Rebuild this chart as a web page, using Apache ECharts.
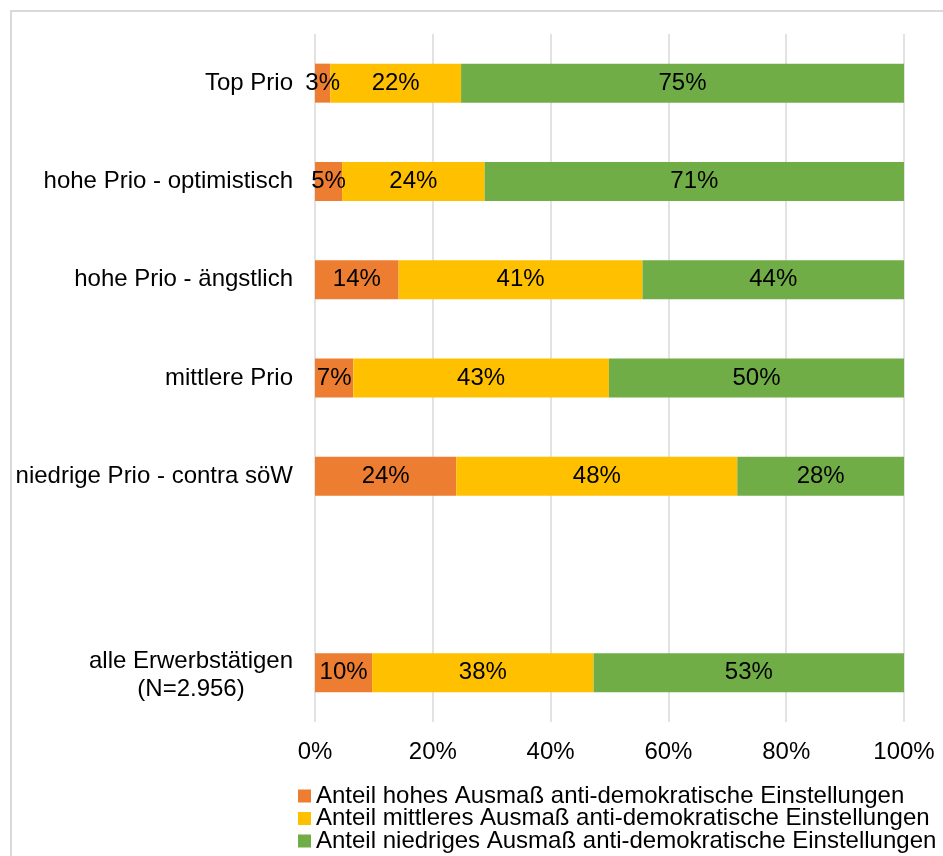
<!DOCTYPE html>
<html>
<head>
<meta charset="utf-8">
<title>anti-demokratische Einstellungen</title>
<script src="https://cdn.jsdelivr.net/npm/echarts@6/dist/echarts.min.js"></script>
<style>
	html, body { margin: 0; padding: 0; background: #fff; }
	#barChart { width: 943px; height: 856px; }
</style>
</head>
<body>
<div id="barChart"></div>
<script>
	// Kategorien von oben nach unten, leere Zeile als Abstand
	var categories = ['Top Prio', 'hohe Prio - optimistisch', 'hohe Prio - ängstlich', 'mittlere Prio', 'niedrige Prio - contra söW', '', 'alle Erwerbstätigen\n(N=2.956)'];
	var hohes = [2.6, 4.6, 14.2, 6.5, 24.0, null, 9.7];
	var mittleres = [22.2, 24.2, 41.4, 43.4, 47.7, null, 37.6];
	var niedriges = [75.2, 71.2, 44.4, 50.1, 28.3, null, 52.7];
	var seriesNames = ['Anteil hohes Ausmaß anti-demokratische Einstellungen', 'Anteil mittleres Ausmaß anti-demokratische Einstellungen', 'Anteil niedriges Ausmaß anti-demokratische Einstellungen'];
	var colors = ['#ed7d31', '#ffc000', '#70ad47'];
	var xTicks = [0, 20, 40, 60, 80, 100];

	var font = '"Liberation Sans", Arial, sans-serif';
	var fs = 24;

	var seriesLabel = {
		show: true,
		position: 'inside',
		color: '#000',
		fontFamily: font,
		fontSize: fs,
		formatter: function (p) {
			return Math.round(p.value) + '%';
		}
	};

	function makeSeries(name, data, color) {
		return {
			name: name,
			type: 'bar',
			stack: 'total',
			barWidth: 39,
			data: data,
			itemStyle: { color: color },
			label: seriesLabel,
			emphasis: { disabled: true }
		};
	}

	var myChart = echarts.init(document.getElementById('barChart'));
	var option = {
		backgroundColor: '#fff',
		animation: false,
		graphic: [{
			type: 'rect',
			shape: { x: 11, y: 11, width: 1000, height: 1000 },
			style: { fill: 'none', stroke: '#d9d9d9', lineWidth: 2 },
			silent: true
		}],
		grid: { left: 315, right: 39, top: 34, bottom: 134, containLabel: false },
		legend: {
			orient: 'vertical',
			left: 298,
			top: 784,
			height: 120,
			padding: 0,
			itemWidth: 13,
			itemHeight: 13,
			itemGap: -1.5,
			icon: 'rect',
			data: seriesNames,
			textStyle: { fontFamily: font, fontSize: fs, color: '#000' }
		},
		xAxis: {
			type: 'value',
			min: xTicks[0],
			max: xTicks[xTicks.length - 1],
			interval: 20,
			axisLine: { show: false },
			axisTick: { show: false },
			axisLabel: {
				formatter: '{value}%',
				margin: 18,
				fontFamily: font,
				fontSize: fs,
				color: '#000'
			},
			splitLine: { show: true, lineStyle: { color: '#d9d9d9', width: 1.5 } }
		},
		yAxis: {
			type: 'category',
			inverse: true,
			data: categories,
			axisLine: { show: false },
			axisTick: { show: false },
			axisLabel: {
				margin: 22,
				fontFamily: font,
				fontSize: fs,
				color: '#000',
				formatter: function (v) {
					if (v.indexOf('\n') >= 0) {
						var parts = v.split('\n');
						return '{a|' + parts[0] + '}\n{c|' + parts[1] + '}';
					}
					return v;
				},
				rich: {
					a: { width: 204, align: 'center', fontFamily: font, fontSize: fs, color: '#000', lineHeight: 28, padding: [6, 0, 0, 0] },
					c: { width: 204, align: 'center', fontFamily: font, fontSize: fs, color: '#000', lineHeight: 28, padding: [6, 0, 0, 0] }
				}
			}
		},
		series: [
			makeSeries(seriesNames[0], hohes, colors[0]),
			makeSeries(seriesNames[1], mittleres, colors[1]),
			makeSeries(seriesNames[2], niedriges, colors[2])
		]
	};
	myChart.setOption(option);
</script>
</body>
</html>
